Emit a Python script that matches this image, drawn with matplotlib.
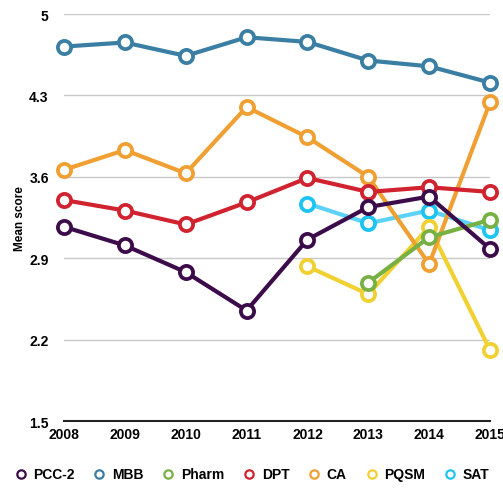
import matplotlib.pyplot as plt
from matplotlib.lines import Line2D

plt.rcParams["font.family"] = ["Liberation Sans", "DejaVu Sans"]
plt.rcParams["font.weight"] = "bold"

years = [2008, 2009, 2010, 2011, 2012, 2013, 2014, 2015]

pcc2 = [3.17, 3.01, 2.78, 2.45, 3.06, 3.34, 3.43, 2.98]
mbb = [4.72, 4.755, 4.64, 4.80, 4.76, 4.60, 4.55, 4.41]
pharm = [None, None, None, None, None, 2.69, 3.08, 3.23]
dpt = [3.40, 3.31, 3.19, 3.38, 3.59, 3.47, 3.51, 3.47]
ca = [3.66, 3.83, 3.63, 4.20, 3.94, 3.60, 2.85, 4.24]
pqsm = [None, None, None, None, 2.83, 2.59, 3.17, 2.11]
sat = [None, None, None, None, 3.37, 3.20, 3.31, 3.14]

series = [
    ("PCC-2", pcc2, "#3b0b4a", "#3b0b4a"),
    ("MBB", mbb, "#3a7fa3", "#3a7fa3"),
    ("Pharm", pharm, "#77b043", "#77b043"),
    ("DPT", dpt, "#d0222f", "#d0222f"),
    ("CA", ca, "#f0a032", "#f0a032"),
    ("PQSM", pqsm, "#f1d031", "#f1d031"),
    ("SAT", sat, "#5cd3f6", "#1cc4f2"),
]

y_ticks = [1.5, 2.2, 2.9, 3.6, 4.3, 5]

fig = plt.figure(figsize=(5.03, 4.89), dpi=100)
ax = fig.add_axes([64 / 503, 1 - 422 / 489, 426 / 503, 407 / 489])

# draw in reverse so PCC-2 ends up on top
for z, (name, vals, line_col, mk_col) in enumerate(reversed(series)):
    xs = [y for y, v in zip(years, vals) if v is not None]
    ys = [v for v in vals if v is not None]
    ax.plot(xs, ys, color=line_col, lw=3, zorder=3 + z, clip_on=False)
    ax.plot(xs, ys, ls="none", marker="o", ms=9.5, mfc="white", mec=mk_col,
            mew=2.7, zorder=3 + z, clip_on=False)

ax.set_xlim(2008, 2015)
ax.set_ylim(1.5, 5)
ax.set_xticks(years)
ax.set_yticks(y_ticks)
ax.set_yticklabels(["1.5", "2.2", "2.9", "3.6", "4.3", "5"])
ax.grid(axis="y", color="#c8c8c8", lw=1)
ax.set_axisbelow(True)
for s in ["top", "right", "left"]:
    ax.spines[s].set_visible(False)
ax.spines["bottom"].set_color("#222222")
ax.spines["bottom"].set_linewidth(1.5)
ax.tick_params(axis="both", length=0, labelsize=10)
ax.tick_params(axis="y", pad=11)
ax.tick_params(axis="x", pad=4)
for lab in ax.get_xticklabels() + ax.get_yticklabels():
    lab.set_fontweight("bold")
ax.set_ylabel("Mean score", fontsize=8.5, fontweight="bold", labelpad=2)

handles = [Line2D([], [], ls="none", marker="o", ms=6, mfc="white", mec=mk,
                  mew=1.6) for _, _, _, mk in series]
fig.legend(handles, [s[0] for s in series], loc="lower center", ncol=7,
           bbox_to_anchor=(0.5, -0.012), frameon=False, fontsize=10,
           handletextpad=0.4, columnspacing=1.3, handlelength=1.0)

fig.savefig("out.png", dpi=100)
